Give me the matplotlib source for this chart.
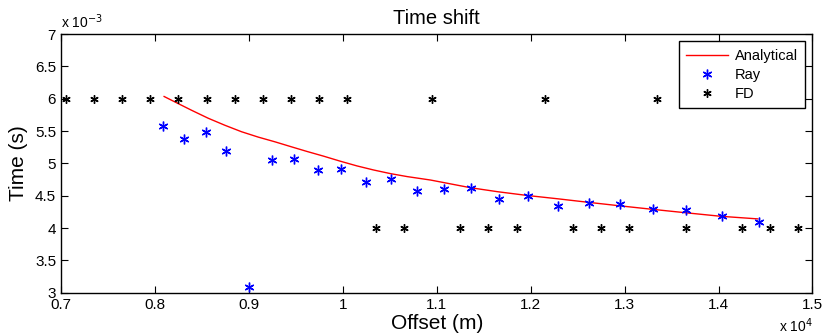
import numpy as np
import matplotlib
matplotlib.use("Agg")
import matplotlib.pyplot as plt
from matplotlib.ticker import FuncFormatter

# Offsets in m, times in s
analytic_x = [8098, 8247, 8389, 8567, 8745, 8922, 9100, 9278, 9455, 9619,
              9796, 9974, 10152, 10329, 10508, 10686, 10934, 11360, 11650,
              11965, 12300, 12604, 12950, 13315, 13670, 14026, 14417]
analytic_t = [6.036e-3, 5.927e-3, 5.824e-3, 5.700e-3, 5.591e-3, 5.491e-3,
              5.408e-3, 5.335e-3, 5.257e-3, 5.186e-3, 5.113e-3, 5.035e-3,
              4.962e-3, 4.899e-3, 4.843e-3, 4.797e-3, 4.744e-3, 4.625e-3,
              4.563e-3, 4.505e-3, 4.452e-3, 4.401e-3, 4.345e-3, 4.288e-3,
              4.235e-3, 4.183e-3, 4.143e-3]

ray_x = [8091, 8308, 8543, 8762, 8997, 9246, 9484, 9737, 9982, 10252, 10518,
         10792, 11076, 11360, 11662, 11971, 12288, 12618, 12949, 13304, 13656,
         14039, 14431]
ray_t = [5.58e-3, 5.38e-3, 5.48e-3, 5.19e-3, 3.09e-3, 5.05e-3, 5.07e-3,
         4.90e-3, 4.91e-3, 4.71e-3, 4.76e-3, 4.57e-3, 4.61e-3, 4.62e-3,
         4.45e-3, 4.50e-3, 4.35e-3, 4.39e-3, 4.38e-3, 4.29e-3, 4.28e-3,
         4.18e-3, 4.09e-3]

fd_x = [7050, 7350, 7650, 7950, 8250, 8550, 8850, 9150, 9450, 9750, 10050,
        10350, 10650, 10950, 11250, 11550, 11850, 12150, 12450, 12750, 13050,
        13350, 13650, 14250, 14550, 14850]
fd_t = [6e-3] * 11 + [4e-3, 4e-3, 6e-3, 4e-3, 4e-3, 4e-3, 6e-3, 4e-3, 4e-3,
                      4e-3, 6e-3, 4e-3, 4e-3, 4e-3, 4e-3]

plt.rcParams['font.family'] = ['Liberation Sans', 'DejaVu Sans']

fig = plt.figure(figsize=(8.24, 3.35), dpi=100)
ax = fig.add_axes([0.074, 0.126, 0.912, 0.772])

ax.plot(analytic_x, analytic_t, color='red', lw=1.0, label='Analytical')
ax.plot(ray_x, ray_t, ls='none', marker=(6, 2, 0), ms=7, mew=1.0,
        color='blue', label='Ray')
ax.plot(fd_x, fd_t, ls='none', marker=(6, 2, 0), ms=6, mew=1.0,
        color='black', label='FD')

ax.set_xlim(7000, 15000)
ax.set_ylim(3e-3, 7e-3)
ax.set_xticks(np.arange(7000, 15001, 1000))
ax.set_yticks(np.arange(3e-3, 7.01e-3, 0.5e-3))
ax.xaxis.set_major_formatter(FuncFormatter(lambda v, p: f'{v / 1e4:g}'))
ax.yaxis.set_major_formatter(FuncFormatter(lambda v, p: f'{v * 1e3:g}'))
ax.tick_params(direction='in', top=True, right=True, labelsize=11,
               length=5, width=0.8)
for s in ax.spines.values():
    s.set_linewidth(1.0)

# MATLAB style exponent labels
ax.text(0.0, 1.022, r'x 10$^{-3}$', transform=ax.transAxes, fontsize=10,
        ha='left', va='baseline')
ax.text(1.0, -0.150, r'x 10$^{4}$', transform=ax.transAxes, fontsize=10,
        ha='right', va='baseline')

ax.set_xlabel('Offset (m)', fontsize=15, labelpad=2)
ax.set_ylabel('Time (s)', fontsize=15, labelpad=5)
ax.text(0.5, 1.039, 'Time shift', transform=ax.transAxes, fontsize=14.5,
        ha='center', va='baseline')

leg = ax.legend(loc='upper right', fontsize=10.5, fancybox=False,
                edgecolor='black', framealpha=1, borderaxespad=0.5,
                handlelength=2.9, handletextpad=0.45, borderpad=0.5,
                labelspacing=0.35)
leg.get_frame().set_linewidth(1.0)

fig.savefig('out.png', dpi=100)
